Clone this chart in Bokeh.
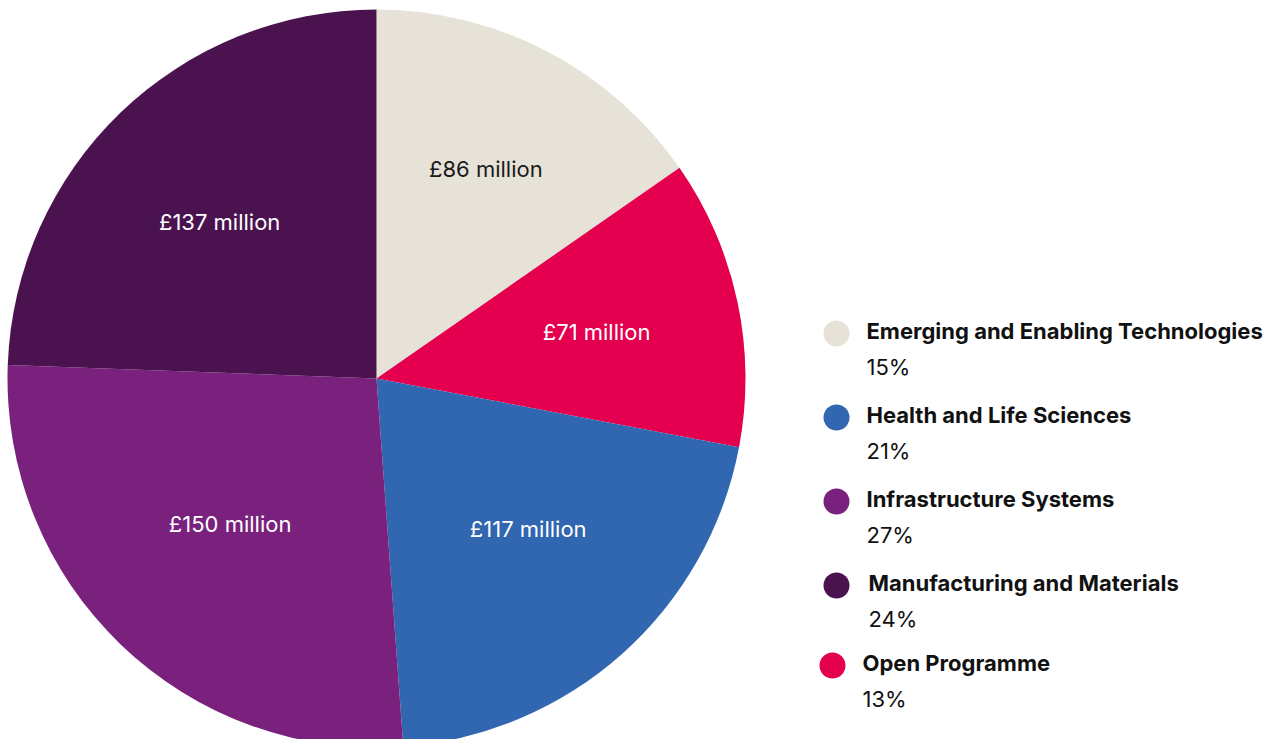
import math
from bokeh.plotting import figure
from bokeh.models import ColumnDataSource, Range1d
from bokeh.core.properties import value
from bokeh.embed import file_html
from bokeh.resources import INLINE

# ---- data ----
categories = ["Emerging and Enabling Technologies", "Health and Life Sciences",
              "Infrastructure Systems", "Manufacturing and Materials", "Open Programme"]
amounts = [86, 117, 150, 137, 71]          # £ million
percent_labels = ["15%", "21%", "27%", "24%", "13%"]
colors = ["#E6E2D7", "#3166B0", "#79217D", "#4A1350", "#E4004F"]
label_colors = ["#1a1a1a", "white", "white", "white", "white"]
pie_order = [0, 4, 1, 2, 3]  # clockwise from 12 o'clock

# ---- layout (screen pixels) ----
W, H = 1271, 739
label_ratio = [0.64, 0.61, 0.58, 0.56, 0.60]   # in pie order
label_angle_shift = [0.0, 0.0, 0.06, -0.02, 0.02]  # radians, in pie order
legend_rows_y = [333, 417, 501, 585, 665]
legend_dot_x = [836, 836, 836, 836, 832]
legend_text_x = [866, 866, 866, 868, 862]

def sy(y):
    return H - y

p = figure(width=W, height=H, output_backend="svg", toolbar_location=None,
           x_range=Range1d(0, W), y_range=Range1d(0, H), min_border=0)
p.axis.visible = False
p.grid.grid_line_color = None
p.outline_line_color = None
p.background_fill_color = "white"

cx, cy, R = 376, sy(378), 369
total = sum(amounts)
starts, ends, lx, ly, ltxt, lcol, fills = [], [], [], [], [], [], []
cum = 0.0
for k, i in enumerate(pie_order):
    frac = amounts[i] / total
    a0 = math.pi / 2 - 2 * math.pi * (cum + frac)
    a1 = math.pi / 2 - 2 * math.pi * cum
    starts.append(a0); ends.append(a1)
    mid = (a0 + a1) / 2 + label_angle_shift[k]
    lx.append(cx + label_ratio[k] * R * math.cos(mid))
    ly.append(cy + label_ratio[k] * R * math.sin(mid))
    ltxt.append(f"£{amounts[i]} million")
    lcol.append(label_colors[i])
    fills.append(colors[i])
    cum += frac

src = ColumnDataSource(dict(s=starts, e=ends, c=fills))
p.wedge(x=cx, y=cy, radius=R, start_angle="s", end_angle="e", fill_color="c",
        line_color=None, source=src)
p.text(x=lx, y=ly, text=ltxt, text_color=lcol, text_align="center",
       text_baseline="middle", text_font=value("Inter"), text_font_size="22px")

# legend
ys = [sy(y) for y in legend_rows_y]
p.scatter(x=legend_dot_x, y=ys, size=26, color=colors, line_color=None)
p.text(x=legend_text_x, y=[y + 3 for y in ys], text=categories,
       text_color="#111111", text_align="left", text_baseline="middle",
       text_font=value("Inter"), text_font_style="bold", text_font_size="22px")
p.text(x=legend_text_x, y=[y - 33 for y in ys], text=percent_labels,
       text_color="#111111", text_align="left", text_baseline="middle",
       text_font=value("Inter"), text_font_size="22px")

open("out.html", "w").write(file_html(p, INLINE))
